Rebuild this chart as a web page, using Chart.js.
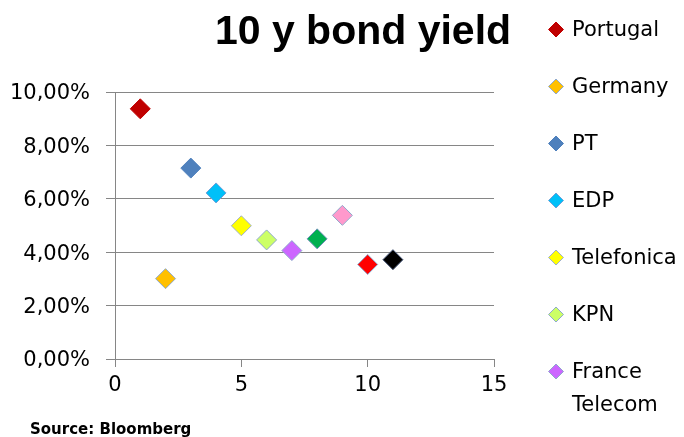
<!DOCTYPE html>
<html>
<head>
<meta charset="utf-8">
<script src="https://cdn.jsdelivr.net/npm/chart.js@4"></script>
<style>
html,body{margin:0;padding:0;background:#fff;}
#wrap{width:684px;height:437px;position:relative;}
</style>
</head>
<body>
<div id="wrap"><canvas id="c" width="684" height="437"></canvas></div>
<script>
const seriesNames = ["Portugal","Germany","PT","EDP","Telefonica","KPN","France Telecom","Series 8","Series 9","Series 10","Series 11"];
const xValues = [1,2,3,4,5,6,7,8,9,10,11];
const yieldValues = [9.37,3.01,7.15,6.22,4.99,4.46,4.06,4.50,5.38,3.54,3.72];
const seriesColors = ["#C00000","#FFC000","#4F81BD","#00C0F8","#FFFF00","#CCFF66","#CC66FF","#00B050","#FF99CC","#FF0000","#000000"];
const seriesBorders = ["#C00000","#8FA9CC","#4F81BD","#6FA0D8","#9FB0C8","#8FA9CC","#8FA9CC","#6F90B8","#8FA9CC","#8FA9CC","#445577"];
const xTicks = [0,5,10,15];
const yTicks = [0,2,4,6,8,10];
const titleText = "10 y bond yield";
const sourceText = "Source: Bloomberg";
const legendCount = 7;

const datasets = seriesNames.map((n,i)=>({
  label:n,
  data:[{x:xValues[i],y:yieldValues[i]}],
  backgroundColor:seriesColors[i],
  borderColor:seriesBorders[i],
  borderWidth:1,
  pointStyle:'rectRot',
  pointRadius:10,
  pointHoverRadius:10
}));

const extras = {
  id:'extras',
  afterDraw(chart){
    const ctx = chart.ctx;
    ctx.save();
    ctx.fillStyle = '#000';
    ctx.font = 'bold 41px "Liberation Sans"';
    ctx.textAlign = 'center';
    ctx.textBaseline = 'alphabetic';
    ctx.fillText(titleText, 363, 44);
    ctx.font = 'bold 15px "DejaVu Sans"';
    ctx.textAlign = 'left';
    ctx.fillText(sourceText, 30, 434);
    ctx.font = '21px "DejaVu Sans"';
    ctx.textBaseline = 'middle';
    for(let i=0;i<legendCount;i++){
      const ds = chart.data.datasets[i];
      const y = 29.5 + i*57;
      const x = 556, r = 7.5;
      ctx.beginPath();
      ctx.moveTo(x-r,y); ctx.lineTo(x,y-r); ctx.lineTo(x+r,y); ctx.lineTo(x,y+r); ctx.closePath();
      ctx.fillStyle = ds.backgroundColor; ctx.fill();
      ctx.strokeStyle = ds.borderColor; ctx.lineWidth = 1; ctx.stroke();
      ctx.fillStyle = '#000';
      const parts = ds.label.split(' ');
      if(ds.label.length > 11 && parts.length > 1){
        ctx.fillText(parts[0], 572, y+1);
        ctx.fillText(parts.slice(1).join(' '), 572, y+34);
      } else {
        ctx.fillText(ds.label, 572, y+1);
      }
    }
    ctx.restore();
  }
};

new Chart(document.getElementById('c'), {
  type:'scatter',
  data:{datasets},
  options:{
    responsive:false,
    animation:false,
    layout:{padding:{top:92,right:190,left:0,bottom:0}},
    plugins:{legend:{display:false},tooltip:{enabled:false},title:{display:false}},
    scales:{
      x:{
        type:'linear',min:0,max:15,
        afterBuildTicks(s){ s.ticks = xTicks.map(v=>({value:v})); },
        afterFit(s){ s.height = 78; },
        grid:{drawOnChartArea:false,drawTicks:true,tickLength:8,color:'#868686',lineWidth:1},
        border:{display:true,color:'#868686',width:1},
        ticks:{color:'#000',font:{family:'DejaVu Sans',size:21},padding:6,maxRotation:0}
      },
      y:{
        type:'linear',min:0,max:10,
        afterBuildTicks(s){ s.ticks = yTicks.map(v=>({value:v})); },
        afterFit(s){ s.width = 115; },
        grid:{drawOnChartArea:true,drawTicks:true,tickLength:9,color:'#868686',lineWidth:1},
        border:{display:true,color:'#868686',width:1},
        ticks:{color:'#000',font:{family:'DejaVu Sans',size:21},padding:16,labelOffset:2,
          callback:v=>v.toFixed(2).replace('.',',')+'%'}
      }
    }
  },
  plugins:[extras]
});
</script>
</body>
</html>
